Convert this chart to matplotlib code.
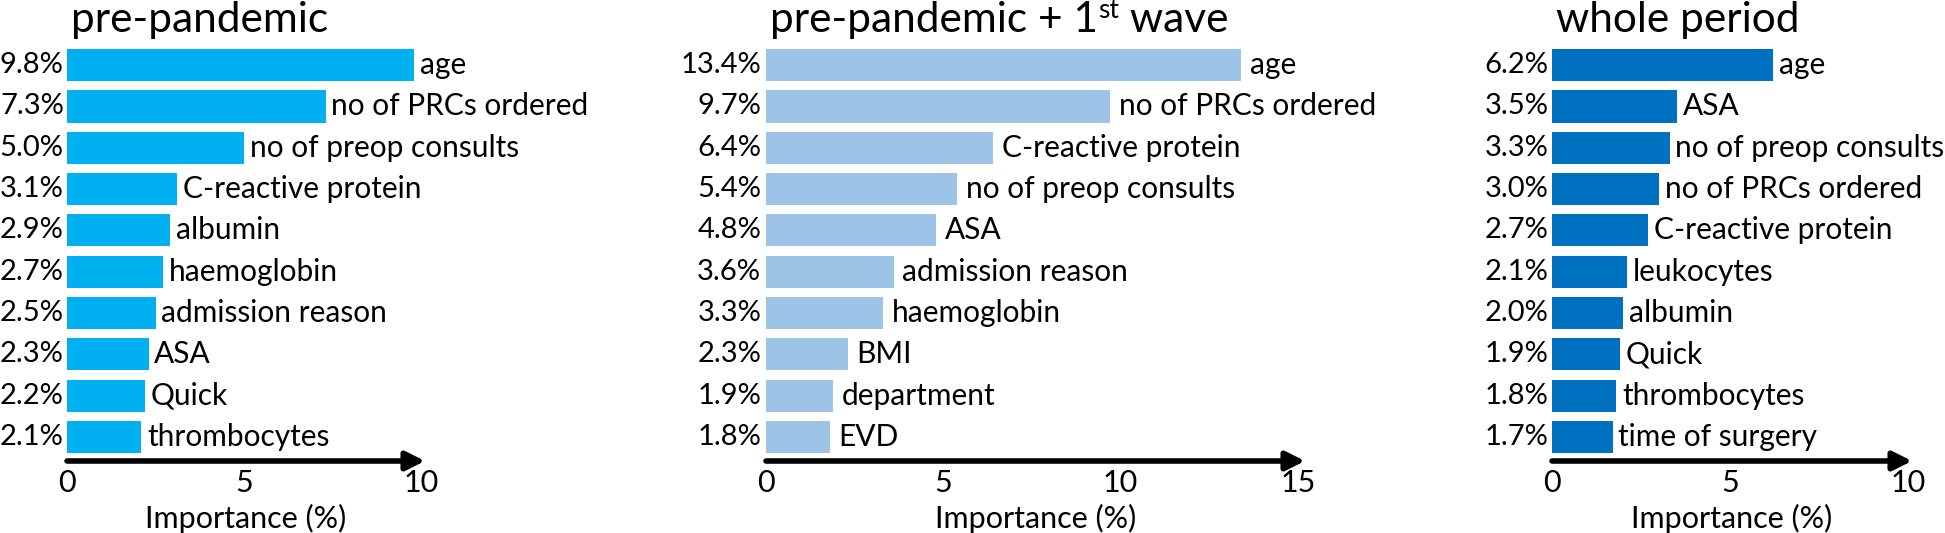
import matplotlib
matplotlib.use("Agg")
import matplotlib.pyplot as plt
import numpy as np

# ── Data ───────────────────────────────────────────────────────────────────
pre_names = ["age", "no of PRCs ordered", "no of preop consults", "C-reactive protein",
             "albumin", "haemoglobin", "admission reason", "ASA", "Quick", "thrombocytes"]
pre_vals = [9.8, 7.3, 5.0, 3.1, 2.9, 2.7, 2.5, 2.3, 2.2, 2.1]

wave_names = ["age", "no of PRCs ordered", "C-reactive protein", "no of preop consults",
              "ASA", "admission reason", "haemoglobin", "BMI", "department", "EVD"]
wave_vals = [13.4, 9.7, 6.4, 5.4, 4.8, 3.6, 3.3, 2.3, 1.9, 1.8]

whole_names = ["age", "ASA", "no of preop consults", "no of PRCs ordered",
               "C-reactive protein", "leukocytes", "albumin", "Quick",
               "thrombocytes", "time of surgery"]
whole_vals = [6.2, 3.5, 3.3, 3.0, 2.7, 2.1, 2.0, 1.9, 1.8, 1.7]

# title pieces: (text, superscript?)
titles = [[("pre-pandemic", False)],
          [("pre-pandemic + 1", False), ("st", True), (" wave", False)],
          [("whole period", False)]]
xticks = [[0, 5, 10], [0, 5, 10, 15], [0, 5, 10]]
xmax = [10.1, 15.2, 10.1]
colors = ["#00B0F0", "#9DC3E6", "#0070C0"]

plt.rcParams["font.family"] = ["Lato", "DejaVu Sans"]

W, H = 1945, 533
fig = plt.figure(figsize=(W / 100, H / 100), dpi=100)
renderer = fig.canvas.get_renderer()

# axes boxes in pixels (left, right)
boxes = [(67, 425), (766, 1305), (1552, 1912)]
bottom, height = 0.1351, 0.7816
TITLE_Y = 1 - 32 / H

panels = [(pre_names, pre_vals), (wave_names, wave_vals), (whole_names, whole_vals)]

for i, ((names, vals), (lpx, rpx)) in enumerate(zip(panels, boxes)):
    ax = fig.add_axes([lpx / W, bottom, (rpx - lpx) / W, height])
    y = np.arange(len(vals))
    ax.barh(y, vals, height=0.78, color=colors[i], edgecolor="none")
    ax.set_ylim(len(vals) - 0.42, -0.5)
    ax.set_xlim(0, xmax[i])

    for yi, v, n in zip(y, vals, names):
        ax.text(-0.009 * xmax[i], yi, f"{v:.1f}%", ha="right", va="center",
                fontsize=21, clip_on=False)
        ax.text(v + 0.016 * xmax[i], yi, n, ha="left", va="center",
                fontsize=21.5, clip_on=False)

    for s in ax.spines.values():
        s.set_visible(False)
    ax.set_yticks([])
    ax.set_xticks(xticks[i])
    ax.tick_params(axis="x", length=0, pad=6, labelsize=22)
    ax.set_xlabel("Importance (%)", fontsize=22, labelpad=5)

    # arrow axis line
    ax.annotate("", xy=(1.0, 0), xytext=(0, 0), xycoords="axes fraction",
                textcoords="axes fraction",
                arrowprops=dict(arrowstyle="-|>", lw=4, color="black",
                                mutation_scale=28, shrinkA=0, shrinkB=0))

    # title, built piece by piece so the superscript stays low
    x = (lpx + 4) / W
    for txt, sup in titles[i]:
        if sup:
            t = fig.text(x, TITLE_Y + 14 / H, txt, ha="left", va="baseline", fontsize=19)
        else:
            t = fig.text(x, TITLE_Y, txt, ha="left", va="baseline", fontsize=30.5)
        bb = t.get_window_extent(renderer)
        x = bb.x1 / W

fig.savefig("out.png", dpi=100)
